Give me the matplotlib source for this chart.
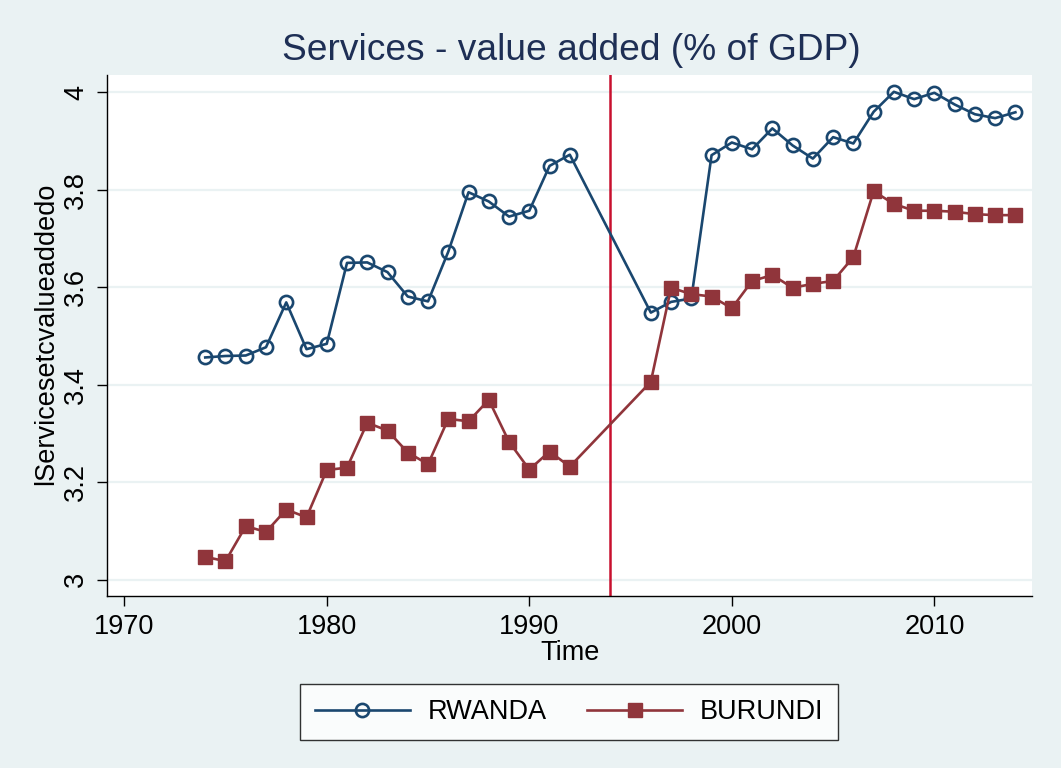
import matplotlib
matplotlib.use("Agg")
import matplotlib.pyplot as plt
import numpy as np

years_a = [1974, 1975, 1976, 1977, 1978, 1979, 1980, 1981, 1982, 1983, 1984, 1985,
           1986, 1987, 1988, 1989, 1990, 1991, 1992]
years_b = [1996, 1997, 1998, 1999, 2000, 2001, 2002, 2003, 2004, 2005, 2006, 2007,
           2008, 2009, 2010, 2011, 2012, 2013, 2014]
years = years_a + years_b

rwanda = [3.456, 3.459, 3.460, 3.477, 3.569, 3.473, 3.484, 3.650, 3.651, 3.631, 3.581, 3.571,
          3.673, 3.795, 3.776, 3.745, 3.757, 3.849, 3.872,
          3.548, 3.570, 3.577, 3.871, 3.897, 3.883, 3.926, 3.891, 3.864, 3.908, 3.895, 3.960,
          4.001, 3.986, 3.999, 3.975, 3.955, 3.947, 3.959]
burundi = [3.047, 3.038, 3.110, 3.098, 3.144, 3.128, 3.225, 3.230, 3.322, 3.306, 3.261, 3.237,
           3.330, 3.325, 3.369, 3.283, 3.226, 3.263, 3.232,
           3.406, 3.599, 3.586, 3.581, 3.557, 3.613, 3.625, 3.599, 3.607, 3.613, 3.662, 3.797,
           3.771, 3.757, 3.757, 3.755, 3.750, 3.748, 3.748]

xticks = [1970, 1980, 1990, 2000, 2010]
yticks = [3.0, 3.2, 3.4, 3.6, 3.8, 4.0]
ytick_labels = ["3", "3.2", "3.4", "3.6", "3.8", "4"]
event_year = 1994

plt.rcParams['font.family'] = ['Liberation Sans', 'DejaVu Sans']

bg = "#EAF2F3"
navy = "#1A476F"
maroon = "#90353B"
FS = 19.5

fig = plt.figure(figsize=(10.61, 7.68), dpi=100, facecolor=bg)
ax = fig.add_axes([107/1061, 1 - 596/768, (1032 - 107)/1061, (596 - 75)/768])
ax.set_facecolor("white")

for y in yticks:
    ax.axhline(y, color=bg, lw=1.6, zorder=0)

ax.plot(years, rwanda, color=navy, lw=1.9, marker='o', markersize=9.5,
        markerfacecolor='none', markeredgecolor=navy, markeredgewidth=1.9,
        label="RWANDA", zorder=3)
ax.plot(years, burundi, color=maroon, lw=1.9, marker='s', markersize=9.5,
        markerfacecolor=maroon, markeredgecolor=maroon,
        label="BURUNDI", zorder=3)
ax.axvline(event_year, color="#C8102E", lw=1.8, zorder=2)

ax.set_xlim(1969.15, 2014.82)
ax.set_ylim(2.9666, 4.0355)
ax.set_xticks(xticks)
ax.set_xticklabels([str(t) for t in xticks], fontsize=FS)
ax.set_yticks(yticks)
ax.set_yticklabels(ytick_labels, fontsize=FS, rotation=90, va='center')

for s in ['top', 'right']:
    ax.spines[s].set_visible(False)
for s in ['left', 'bottom']:
    ax.spines[s].set_color('black')
    ax.spines[s].set_linewidth(1.0)
ax.tick_params(axis='both', direction='out', length=7, width=1.0, colors='black', pad=6)

fig.text(571/1061, 1 - 50/768, "Services - value added (% of GDP)", ha='center', va='center',
         fontsize=26.7, color="#1E2F55")
fig.text(570/1061, 1 - 653/768, "Time", ha='center', va='center', fontsize=FS, color='black')
fig.text(46/1061, 1 - 334/768, "lServicesetcvalueaddedo", ha='center', va='center',
         rotation=90, fontsize=FS, color='black')

leg = fig.legend(loc='center', bbox_to_anchor=(569/1061, 1 - 712/768), ncol=2,
                 fontsize=FS, frameon=True, fancybox=False, edgecolor='black',
                 handlelength=3.5, columnspacing=1.5, borderpad=0.55, handletextpad=0.65)
leg.get_frame().set_linewidth(1.0)
leg.get_frame().set_facecolor('white')

fig.savefig("out.png", dpi=100, facecolor=bg)
